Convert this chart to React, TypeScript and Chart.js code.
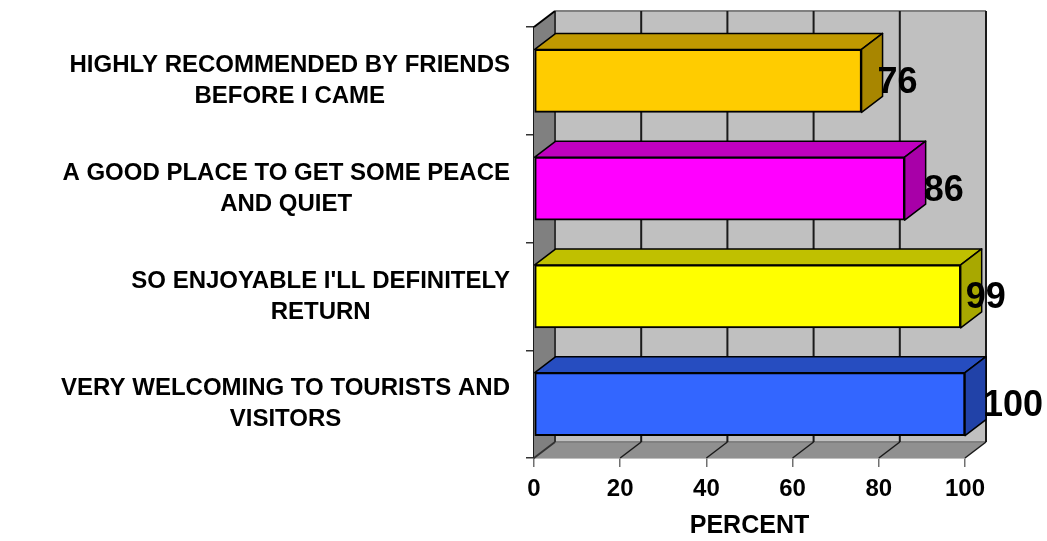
import React, { useEffect, useRef } from "react";
import { Chart, registerables } from "chart.js";

Chart.register(...registerables);

const categories = [
  ["HIGHLY RECOMMENDED BY FRIENDS", "BEFORE I CAME"],
  ["A GOOD PLACE TO GET SOME PEACE", "AND QUIET"],
  ["SO ENJOYABLE I'LL DEFINITELY", "RETURN"],
  ["VERY WELCOMING TO TOURISTS AND", "VISITORS"],
];
const percentValues = [76, 86, 99, 100];
const frontColors = ["#FFCC00", "#FF00FF", "#FFFF00", "#3366FF"];
const topColors = ["#C09900", "#C000C0", "#C0C000", "#264DC0"];
const sideColors = ["#A88600", "#A800A8", "#A8A800", "#2142A8"];
const valueLabelShift = [16, 19, 5, 18];

const DX = 21;
const DY = -16;
const FONT = '"Liberation Sans", Arial, sans-serif';

function poly(ctx: CanvasRenderingContext2D, pts: number[][], fill: string | null, stroke: string | null, lw = 2) {
  ctx.beginPath();
  pts.forEach((p, i) => (i ? ctx.lineTo(p[0], p[1]) : ctx.moveTo(p[0], p[1])));
  ctx.closePath();
  if (fill) {
    ctx.fillStyle = fill;
    ctx.fill();
  }
  if (stroke) {
    ctx.strokeStyle = stroke;
    ctx.lineWidth = lw;
    ctx.lineJoin = "round";
    ctx.stroke();
  }
}

function line(ctx: CanvasRenderingContext2D, x1: number, y1: number, x2: number, y2: number, color: string, lw = 2) {
  ctx.beginPath();
  ctx.moveTo(x1, y1);
  ctx.lineTo(x2, y2);
  ctx.strokeStyle = color;
  ctx.lineWidth = lw;
  ctx.stroke();
}

const box3d = {
  id: "box3d",
  beforeDatasetsDraw(chart: any) {
    const { ctx, chartArea: a, scales } = chart;
    const x = scales.x;
    ctx.save();
    // back wall
    poly(ctx, [[a.left + DX, a.top + DY], [a.right + DX, a.top + DY], [a.right + DX, a.bottom + DY], [a.left + DX, a.bottom + DY]], "#C0C0C0", null);
    // left wall
    poly(ctx, [[a.left, a.top], [a.left + DX, a.top + DY], [a.left + DX, a.bottom + DY], [a.left, a.bottom]], "#808080", null);
    // floor
    poly(ctx, [[a.left, a.bottom], [a.left + DX, a.bottom + DY], [a.right + DX, a.bottom + DY], [a.right, a.bottom]], "#909090", null);
    // wall edges
    line(ctx, a.left + DX, a.top + DY, a.right + DX, a.top + DY, "#808080", 2);
    line(ctx, a.left + DX, a.bottom + DY, a.right + DX, a.bottom + DY, "#808080", 2);
    line(ctx, a.left + DX, a.top + DY, a.left + DX, a.bottom + DY, "#333333", 2);
    line(ctx, a.left, a.top, a.left + DX, a.top + DY, "#000000", 2);
    line(ctx, a.left, a.bottom, a.left + DX, a.bottom + DY, "#333333", 2);
    // gridlines on the back wall and floor
    x.ticks.forEach((t: any) => {
      const px = x.getPixelForValue(t.value);
      if (t.value > 0) {
        line(ctx, px + DX, a.top + DY, px + DX, a.bottom + DY, "#1a1a1a", 2);
        line(ctx, px, a.bottom, px + DX, a.bottom + DY, "#1a1a1a", 1.5);
      }
    });
    // bar faces
    chart.getDatasetMeta(0).data.forEach((b: any, i: number) => {
      const top = b.y - b.height / 2;
      const bot = b.y + b.height / 2;
      const l = b.base;
      const r = b.x;
      poly(ctx, [[l, top], [l + DX, top + DY], [r + DX, top + DY], [r, top]], topColors[i], "#000000", 1.5);
      poly(ctx, [[r, top], [r + DX, top + DY], [r + DX, bot + DY], [r, bot]], sideColors[i], "#000000", 1.5);
    });
    ctx.restore();
  },
  afterDatasetsDraw(chart: any) {
    const { ctx, scales } = chart;
    const y = scales.y;
    ctx.save();
    ctx.fillStyle = "#000000";
    // multi-line category labels: each block is right-aligned, its lines centred
    ctx.font = `bold 24px ${FONT}`;
    ctx.textBaseline = "middle";
    ctx.textAlign = "center";
    categories.forEach((lines, i) => {
      const cy = y.getPixelForTick(i);
      const w = Math.max(...lines.map((s) => ctx.measureText(s).width));
      const cx = 510 - w / 2;
      lines.forEach((s, k) => ctx.fillText(s, cx, cy + (k === 0 ? -15.5 : 15.5)));
    });
    // value labels
    ctx.font = `bold 36px ${FONT}`;
    ctx.textAlign = "left";
    chart.getDatasetMeta(0).data.forEach((b: any, i: number) => {
      ctx.fillText(String(percentValues[i]), b.x + valueLabelShift[i], b.y + 2);
    });
    ctx.restore();
  },
};

export default function App() {
  const ref = useRef<HTMLCanvasElement>(null);
  useEffect(() => {
    const chart = new Chart(ref.current!, {
      type: "bar",
      plugins: [box3d],
      data: {
        labels: categories as any,
        datasets: [
          {
            label: "PERCENT",
            data: percentValues,
            backgroundColor: frontColors,
            borderColor: "#000000",
            borderWidth: 2,
            borderSkipped: false,
            barThickness: 63,
          },
        ],
      },
      options: {
        indexAxis: "y",
        responsive: false,
        animation: false,
        layout: { padding: { left: 0, top: 27, right: 82, bottom: 0 } },
        plugins: { legend: { display: false }, tooltip: { enabled: false } },
        scales: {
          x: {
            min: 0,
            max: 100,
            afterFit: (s: any) => {
              s.height = 83;
            },
            ticks: {
              stepSize: 20,
              maxRotation: 0,
              color: "#000000",
              padding: 8,
              font: { family: FONT, size: 24, weight: "bold" },
            },
            grid: { drawOnChartArea: false, drawTicks: true, tickLength: 9, color: "#707070", lineWidth: 1.5 },
            border: { display: true, color: "#808080", width: 1.5 },
            title: {
              display: true,
              text: "PERCENT",
              color: "#000000",
              padding: { top: 0, bottom: 0 },
              font: { family: FONT, size: 25, weight: "bold" },
            },
          },
          y: {
            afterFit: (s: any) => {
              s.width = 534;
            },
            ticks: { display: false },
            grid: { drawOnChartArea: false, drawTicks: true, tickLength: 8, color: "#333333", lineWidth: 1.5 },
            border: { display: true, color: "#1a1a1a", width: 2 },
          },
        },
      },
    } as any);
    return () => chart.destroy();
  }, []);
  return (
    <div style={{ position: "fixed", left: 0, top: 0, width: 1047, height: 541, background: "#ffffff" }}>
      <canvas ref={ref} width={1047} height={541} style={{ display: "block" }} />
    </div>
  );
}
